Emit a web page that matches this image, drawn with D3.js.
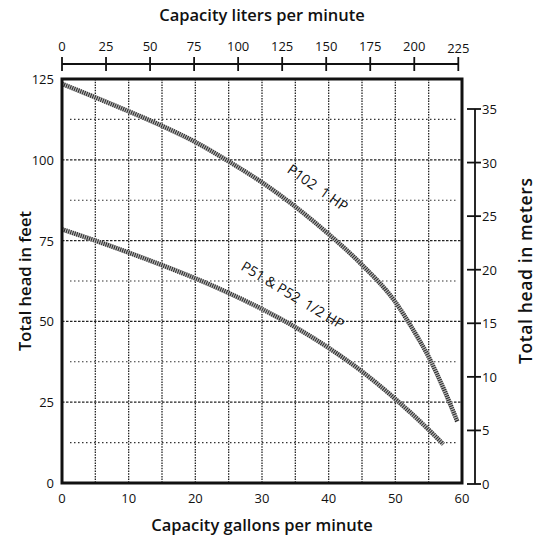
<!DOCTYPE html>
<html><head><meta charset="utf-8">
<script src="https://cdn.jsdelivr.net/npm/d3@7"></script>
<style>
html,body{margin:0;padding:0;background:#fff;}
svg{display:block;}
text{font-family:"Open Sans","Noto Sans",sans-serif;fill:#111;}
</style></head>
<body>
<svg id="chart" width="538" height="539"></svg>
<script>
// ---- data ----
const galTicks = [0, 10, 20, 30, 40, 50, 60];
const galGrid = [5, 10, 15, 20, 25, 30, 35, 40, 45, 50, 55];
const literTicks = [0, 25, 50, 75, 100, 125, 150, 175, 200, 225];
const feetTicks = [0, 25, 50, 75, 100, 125];
const feetGridMajor = [25, 50, 75, 100];
const feetGridMinor = [12.5, 37.5, 62.5, 87.5, 112.5];
const meterTicks = [0, 5, 10, 15, 20, 25, 30, 35];

const p102Gal = [0, 5, 10, 15, 20, 25, 30, 35, 40, 45, 50, 52.5, 55, 57.5, 59.3];
const p102Ft  = [123.5, 119.3, 115, 110.5, 105.5, 99.5, 93, 85.5, 77, 67.5, 56, 48, 39, 28, 19];
const p51Gal  = [0, 5, 10, 15, 20, 25, 30, 35, 40, 45, 50, 55, 57.2];
const p51Ft   = [78.5, 75, 71.3, 67.4, 63.3, 58.8, 53.8, 48.2, 41.8, 34.5, 26, 16.5, 12];

const p102Label = "P102  1 HP";
const p51Label = "P51 & P52  1/2 HP";
const titleTop = "Capacity liters per minute";
const titleBottom = "Capacity gallons per minute";
const titleLeft = "Total head in feet";
const titleRight = "Total head in meters";
const LITERS_PER_GALLON = 3.785;

// ---- layout ----
const svg = d3.select("#chart");
const x = d3.scaleLinear().domain([0, 60]).range([62, 462]);
const y = d3.scaleLinear().domain([0, 125]).range([483, 79]);
const xL = d3.scaleLinear().domain([0, 225]).range([x(0), x(225 / LITERS_PER_GALLON)]);
const yM = d3.scaleLinear().domain([0, 35]).range([484, 109]);

// grid
const grid = svg.append("g");
grid.selectAll("line.v").data(galGrid).join("line")
  .attr("x1", d => x(d)).attr("x2", d => x(d))
  .attr("y1", y(125)).attr("y2", y(0))
  .attr("stroke", "#222").attr("stroke-width", 1.3).attr("stroke-dasharray", "1.5,1.2");
grid.selectAll("line.hM").data(feetGridMajor).join("line")
  .attr("x1", x(0)).attr("x2", x(60))
  .attr("y1", d => y(d)).attr("y2", d => y(d))
  .attr("stroke", "#222").attr("stroke-width", 1.3).attr("stroke-dasharray", "2.5,1.5");
grid.selectAll("line.hm").data(feetGridMinor).join("line")
  .attr("x1", x(1.2)).attr("x2", x(59.3))
  .attr("y1", d => y(d)).attr("y2", d => y(d))
  .attr("stroke", "#333").attr("stroke-width", 1.1).attr("stroke-dasharray", "1.5,2.5");

// curves
const line = d3.line().x(d => x(d[0])).y(d => y(d[1])).curve(d3.curveMonotoneX);
function drawCurve(gs, fs) {
  const pts = gs.map((g, i) => [g, fs[i]]);
  svg.append("path").datum(pts).attr("d", line)
    .attr("fill", "none").attr("stroke", "#b5b5b5").attr("stroke-width", 4.5);
  svg.append("path").datum(pts).attr("d", line)
    .attr("fill", "none").attr("stroke", "#2a2a2a").attr("stroke-width", 4.5)
    .attr("stroke-dasharray", "1,1.2");
}
drawCurve(p102Gal, p102Ft);
drawCurve(p51Gal, p51Ft);

// frame
svg.append("rect").attr("x", x(0)).attr("y", y(125))
  .attr("width", x(60) - x(0)).attr("height", y(0) - y(125))
  .attr("fill", "none").attr("stroke", "#111").attr("stroke-width", 3);

// bottom axis labels
svg.append("g").selectAll("text").data(galTicks).join("text")
  .attr("x", d => x(d)).attr("y", 503).attr("text-anchor", "middle")
  .attr("font-size", 13).text(d => d);
// left labels
svg.append("g").selectAll("text").data(feetTicks).join("text")
  .attr("x", 54).attr("y", d => y(d) + 5).attr("text-anchor", "end")
  .attr("font-size", 13).text(d => d);

// top liters axis
const axT = svg.append("g");
axT.append("line").attr("x1", xL(0)).attr("x2", xL(225)).attr("y1", 64).attr("y2", 64)
  .attr("stroke", "#111").attr("stroke-width", 2);
axT.selectAll("line.t").data(literTicks).join("line")
  .attr("x1", d => xL(d)).attr("x2", d => xL(d)).attr("y1", 57).attr("y2", 71)
  .attr("stroke", "#111").attr("stroke-width", 1.8);
axT.selectAll("text").data(literTicks).join("text")
  .attr("x", d => xL(d)).attr("y", d => d === 225 ? 53 : 51).attr("text-anchor", "middle")
  .attr("font-size", 13).text(d => d);

// right meters axis
const axR = svg.append("g");
axR.append("line").attr("x1", 475).attr("x2", 475).attr("y1", yM(35)).attr("y2", yM(0))
  .attr("stroke", "#111").attr("stroke-width", 1.8);
axR.selectAll("line.t").data(meterTicks).join("line")
  .attr("x1", 467).attr("x2", 481).attr("y1", d => yM(d)).attr("y2", d => yM(d))
  .attr("stroke", "#111").attr("stroke-width", 1.8);
axR.selectAll("text").data(meterTicks).join("text")
  .attr("x", 482).attr("y", d => yM(d) + 5).attr("text-anchor", "start")
  .attr("font-size", 13).text(d => d);

// titles
svg.append("text").attr("x", 262).attr("y", 21).attr("text-anchor", "middle")
  .attr("font-size", 16.5).attr("font-weight", 600).text(titleTop);
svg.append("text").attr("x", 262).attr("y", 531).attr("text-anchor", "middle")
  .attr("font-size", 16.5).attr("font-weight", 600).text(titleBottom);
svg.append("text").attr("transform", "translate(31,281) rotate(-90)").attr("text-anchor", "middle")
  .attr("font-size", 16).attr("font-weight", 600)
  .attr("textLength", 140).attr("lengthAdjust", "spacingAndGlyphs").text(titleLeft);
svg.append("text").attr("transform", "translate(532,271) rotate(-90)").attr("text-anchor", "middle")
  .attr("font-size", 17.5).attr("font-weight", 600)
  .attr("textLength", 186).attr("lengthAdjust", "spacing").text(titleRight);

// curve labels
svg.append("text").attr("transform", `translate(${x(38.35)},${y(91.3)}) rotate(35)`)
  .attr("text-anchor", "middle").attr("dy", "0.35em").attr("font-size", 14)
  .style("white-space", "pre").text(p102Label);
svg.append("text").attr("transform", `translate(${x(34.6)},${y(58.1)}) rotate(31)`)
  .attr("text-anchor", "middle").attr("dy", "0.35em").attr("font-size", 14)
  .style("white-space", "pre").text(p51Label);
</script>
</body></html>
